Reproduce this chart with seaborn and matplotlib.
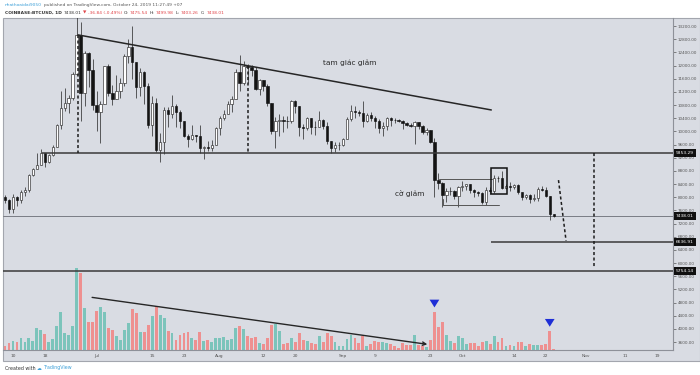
import numpy as np
import pandas as pd
import matplotlib
matplotlib.use("Agg")
import matplotlib.pyplot as plt
import seaborn as sns
from matplotlib.patches import Rectangle

sns.set_theme(style="white")
plt.rcParams['font.family'] = ['DejaVu Sans']

# --- Data: COINBASE:BTCUSD daily, 2019-06-08 .. 2019-10-24 ---
first_date = '2019-06-08'
first_open = 8000.0
close = [7930, 7630, 8020, 7910, 8170, 8230, 8690, 8860, 8980, 9330,
         9080, 9280, 9530, 10200, 10720, 10860, 11020, 11750, 12930, 11160,
         12370, 11870, 10800, 10580, 10820, 11980, 11160, 10990, 11240, 11470,
         12290, 12570, 12100, 11340, 11800, 11380, 10200, 10850, 9430, 9680,
         10640, 10530, 10770, 10590, 10330, 9850, 9780, 9880, 9850, 9480,
         9530, 9510, 9590, 10090, 10400, 10530, 10820, 10980, 11800, 11470,
         11980, 11960, 11860, 11290, 11560, 11390, 10860, 10020, 10310, 10360,
         10320, 10300, 10920, 10760, 10130, 10110, 10410, 10140, 10130, 10360,
         10170, 9720, 9490, 9580, 9600, 9770, 10390, 10620, 10580, 10570,
         10320, 10490, 10400, 10310, 10100, 10160, 10420, 10360, 10350, 10310,
         10260, 10190, 10160, 10280, 10170, 9990, 10030, 9690, 8530, 8430,
         8060, 8190, 8200, 8050, 8300, 8340, 8390, 8230, 8150, 8140,
         7870, 8210, 8190, 8590, 8580, 8270, 8350, 8320, 8370, 8160,
         8000, 8070, 7960, 7970, 8240, 8230, 8030, 7475.54, 7438.01]
high = [8060, 7960, 8090, 8050, 8220, 8320, 8700, 8880, 9340, 9470,
        9350, 9310, 9600, 10230, 11230, 11310, 11100, 11790, 13880, 13310,
        12440, 12400, 12200, 11220, 10930, 12000, 12060, 11400, 11700, 11610,
        12350, 12820, 13200, 12110, 11920, 11830, 11460, 11080, 11000, 9960,
        10750, 10750, 11100, 10840, 10660, 10330, 9920, 10180, 9890, 10200,
        9560, 9700, 9740, 10120, 10480, 10660, 10920, 11080, 11900, 12310,
        12140, 12060, 12030, 11950, 11600, 11560, 11450, 10860, 10450, 10530,
        10470, 10480, 10940, 10960, 10770, 10230, 10440, 10410, 10310, 10630,
        10380, 10290, 9720, 9670, 9680, 9800, 10440, 10800, 10760, 10640,
        10910, 10560, 10600, 10470, 10390, 10280, 10450, 10440, 10420, 10380,
        10360, 10280, 10260, 10310, 10280, 10180, 10090, 10040, 9800, 8730,
        8460, 8270, 8320, 8220, 8340, 8490, 8390, 8410, 8250, 8180,
        8160, 8320, 8320, 8690, 8650, 8800, 8400, 8460, 8400, 8400,
        8170, 8110, 8100, 8100, 8300, 8340, 8320, 8040, 7499.98]
low = [7820, 7520, 7530, 7730, 7830, 8040, 8160, 8630, 8850, 8980,
       8920, 9040, 9240, 9530, 10070, 10630, 10560, 10960, 11700, 10310,
       10760, 11340, 10650, 10000, 9650, 10820, 11080, 10790, 10990, 11010,
       11390, 12090, 11580, 11000, 11080, 10830, 10110, 9860, 9380, 9080,
       9300, 10130, 10400, 10140, 10100, 9830, 9540, 9750, 9690, 9350,
       9160, 9400, 9400, 9580, 9880, 10340, 10530, 10600, 10980, 11230,
       11400, 11480, 11680, 11250, 11100, 11230, 10770, 9920, 9480, 9870,
       9980, 10100, 10260, 10570, 9860, 9760, 10040, 9920, 9900, 10130,
       10060, 9620, 9330, 9360, 9440, 9550, 9760, 10320, 10400, 10470,
       10140, 10290, 10310, 10100, 9950, 9860, 10040, 10160, 10250, 10270,
       10080, 10150, 10130, 9610, 10060, 9920, 9880, 9640, 8010, 8240,
       7700, 7860, 8060, 7940, 7710, 8200, 8230, 8120, 8000, 8030,
       7790, 7770, 8110, 8120, 8450, 8250, 8260, 8190, 8260, 8090,
       7930, 7940, 7830, 7880, 7880, 8180, 8020, 7300, 7403.26]
volume = [3.7, 6.7, 9.0, 7.7, 12.0, 8.3, 11.7, 9.3, 21.7, 19.7,
          15.7, 8.3, 11.0, 24.3, 37.7, 17.0, 15.0, 24.3, 81.7, 77.0,
          41.7, 28.3, 27.7, 39.3, 43.3, 37.7, 21.7, 20.0, 14.3, 10.3,
          19.7, 27.0, 41.0, 37.0, 17.7, 17.7, 25.0, 33.7, 44.3, 35.0,
          32.3, 19.3, 17.0, 10.3, 15.0, 17.0, 17.7, 12.3, 9.7, 18.3,
          9.0, 9.7, 8.3, 11.7, 12.3, 13.0, 9.7, 11.0, 22.3, 24.3,
          21.0, 14.3, 12.3, 12.7, 7.0, 5.7, 11.7, 25.0, 26.3, 18.7,
          6.0, 6.7, 11.7, 8.3, 17.0, 10.3, 9.0, 7.0, 6.3, 13.7,
          7.7, 17.0, 13.7, 8.3, 3.7, 3.7, 11.0, 15.0, 11.7, 7.0,
          14.3, 3.7, 5.7, 9.0, 7.7, 7.7, 7.0, 5.7, 3.7, 2.3,
          7.0, 5.0, 5.0, 15.0, 5.0, 3.7, 3.0, 10.3, 38.3, 22.7,
          27.7, 15.0, 9.0, 7.0, 14.3, 11.7, 6.3, 7.0, 7.0, 3.7,
          8.3, 9.0, 5.7, 13.7, 7.7, 11.7, 3.7, 5.0, 3.7, 7.7,
          7.7, 3.7, 6.3, 5.0, 5.0, 5.0, 5.7, 19.0, 1.0]

tick_dates = ['2019-06-10', '2019-06-18', '2019-07-01', '2019-07-15', '2019-07-23',
              '2019-08-01', '2019-08-12', '2019-08-20', '2019-09-01', '2019-09-09',
              '2019-09-23', '2019-10-01', '2019-10-14', '2019-10-22', '2019-11-01',
              '2019-11-11', '2019-11-19']
tick_labels = ['10', '18', 'Jul', '15', '23', 'Aug', '12', '20', 'Sep', '9',
               '23', 'Oct', '14', '22', 'Nov', '11', '19']
price_levels = [9353.29, 7438.01, 6636.91, 5754.14]

# --- Frame ---
df = pd.DataFrame({'close': close, 'high': high, 'low': low, 'volume': volume})
opens = [first_open] + close[:-1]
opens[-1] = 7475.54
df['open'] = opens
df['day'] = np.arange(len(df))
df['dir'] = np.where(df['close'] >= df['open'], 'up', 'down')
t0 = pd.Timestamp(first_date)
tick_pos = [(pd.Timestamp(t) - t0).days for t in tick_dates]

BG = '#d9dce3'
INK = '#262626'
fig = plt.figure(figsize=(7, 3.75), dpi=100)
fig.patch.set_facecolor('white')
panel = Rectangle((3 / 700, 14 / 375), 697 / 700, 343 / 375, transform=fig.transFigure,
                  facecolor=BG, edgecolor='#a3a6ae', linewidth=0.8, zorder=-5)
fig.add_artist(panel)

rect = [3 / 700, 25 / 375, 670 / 700, 332 / 375]
axv = fig.add_axes(rect)
ax = fig.add_axes(rect, sharex=axv)
ax.patch.set_alpha(0)
axv.patch.set_alpha(0)

# volume
sns.barplot(data=df, x='day', y='volume', hue='dir', native_scale=True, dodge=False,
            palette={'up': '#7cc4bb', 'down': '#ee9090'}, width=0.72, saturation=1,
            errorbar=None, legend=False, linewidth=0, ax=axv)
axv.set_ylim(0, 332)
axv.axis('off')

# candles
up = df[df['dir'] == 'up']
dn = df[df['dir'] == 'down']
ax.vlines(df['day'], df['low'], df['high'], color='#333', linewidth=0.55, zorder=2)
ax.bar(up['day'], up['close'] - up['open'], bottom=up['open'], width=0.6,
       color='white', edgecolor='#2a2a2a', linewidth=0.45, zorder=3)
ax.bar(dn['day'], dn['close'] - dn['open'], bottom=dn['open'], width=0.6,
       color='#141414', edgecolor='#141414', linewidth=0.45, zorder=3)

ax.set_xlim(-0.52, 168.0)
ax.set_ylim(3360, 13443)

# horizontal levels
ax.hlines(price_levels[0], 9.3, 168, color='#3a3a3a', linewidth=1.1, zorder=4)
ax.axhline(price_levels[1], color='#7a7d85', linewidth=0.7, zorder=1)
ax.hlines(price_levels[2], 122.3, 168, color='#3a3a3a', linewidth=1.1, zorder=4)
ax.axhline(price_levels[3], color='#3a3a3a', linewidth=1.1, zorder=4)

# descending triangle trendline
ax.plot([18.35, 122.3], [12930, 10650], color=INK, linewidth=1.1, zorder=4)
# flag channel
ax.plot([109.2, 122.5], [8550, 8550], color='#555', linewidth=0.7, zorder=4)
ax.plot([110.2, 124.3], [7760, 7760], color='#555', linewidth=0.7, zorder=4)
ax.plot([110.2, 110.2], [7760, 7950], color='#555', linewidth=0.7, zorder=4)
ax.add_patch(Rectangle((122.3, 8098), 4.0, 790, fill=False, edgecolor='#111', linewidth=1.1, zorder=5))

# dashed measure lines
dash = dict(color='#1e1e1e', linewidth=1.1, dashes=(2, 1.6), zorder=5)
ax.plot([18.35, 18.35], [12930, price_levels[0]], **dash)
ax.plot([61.1, 61.1], [11990, price_levels[0]], **dash)
ax.plot([148.2, 148.2], [price_levels[0], 5850], **dash)
ax.plot([139.2, 141.1], [8520, 6680], **dash)

ax.text(86.8, 12076, 'tam giác giảm', fontsize=5.3, color=INK, ha='center', va='center')
ax.text(101.9, 8098, 'cờ giảm', fontsize=5.3, color=INK, ha='center', va='center')

# volume trend + markers
axv.annotate('', xy=(106.9, 5.3), xytext=(21.2, 53),
             arrowprops=dict(arrowstyle='->', color=INK, lw=1.0, mutation_scale=6))
for d in (108, 137):
    v = df['volume'].iloc[d]
    axv.annotate('', xy=(d, v + 1.5), xytext=(d, v + 10.5),
                 arrowprops=dict(arrowstyle='simple,head_width=1.0,head_length=0.8,tail_width=0.4',
                                 color='#1f2fd6', lw=0, mutation_scale=7))

# axes styling
for s in ('top', 'left'):
    ax.spines[s].set_visible(False)
ax.spines['right'].set_color('#8e9199')
ax.spines['bottom'].set_color('#8e9199')
ax.spines['right'].set_linewidth(0.8)
ax.spines['bottom'].set_linewidth(0.8)
ax.yaxis.tick_right()
yt = np.arange(3600, 13201, 400)
ax.set_yticks(yt)
ax.set_yticklabels([f'{v:.2f}' for v in yt])
ax.set_xticks(tick_pos)
ax.set_xticklabels(tick_labels)
ax.tick_params(axis='y', labelsize=3.0, colors='#555', length=2, width=0.5, pad=1.5)
ax.tick_params(axis='x', labelsize=3.2, colors='#555', length=1.5, width=0.5, pad=1.5)
ax.set_xlabel('')
ax.set_ylabel('')

for lv in price_levels:
    ax.annotate(f'{lv:.2f}', xy=(1, lv), xycoords=('axes fraction', 'data'),
                xytext=(2.2, 0), textcoords='offset points', ha='left', va='center',
                fontsize=3.2, color='white', annotation_clip=False, zorder=10,
                bbox=dict(boxstyle='square,pad=0.45', fc='#101010', ec='none'))


def chain_text(x, y, pieces, size):
    renderer = fig.canvas.get_renderer()
    for txt, color, weight in pieces:
        t = fig.text(x, y, txt, color=color, fontsize=size, fontweight=weight, ha='left', va='center')
        bb = t.get_window_extent(renderer=renderer)
        x += (bb.width + 1.6) / fig.bbox.width


red = '#e0454a'
dark = '#333'
chain_text(5 / 700, 1 - 5 / 375, [('nhathoaidai9050', '#3ea0d8', 'normal'),
                                   ('published on TradingView.com, October 24, 2019 11:27:49 +07', '#555', 'normal')], 3.2)
chain_text(5 / 700, 1 - 12.5 / 375, [('COINBASE:BTCUSD, 1D', dark, 'bold'), ('7438.01', dark, 'normal'),
                                      ('▼', red, 'normal'), ('-36.84 (-0.49%)', red, 'normal'),
                                      ('O:', dark, 'normal'), ('7475.54', red, 'normal'),
                                      ('H:', dark, 'normal'), ('7499.98', red, 'normal'),
                                      ('L:', dark, 'normal'), ('7403.26', red, 'normal'),
                                      ('C:', dark, 'normal'), ('7438.01', red, 'normal')], 3.2)
chain_text(5 / 700, 1 - 368 / 375, [('Created with', dark, 'normal'), ('☁', '#3ea0d8', 'normal'),
                                     ('TradingView', '#3ea0d8', 'normal')], 3.4)

fig.savefig('out.png', dpi=100)
